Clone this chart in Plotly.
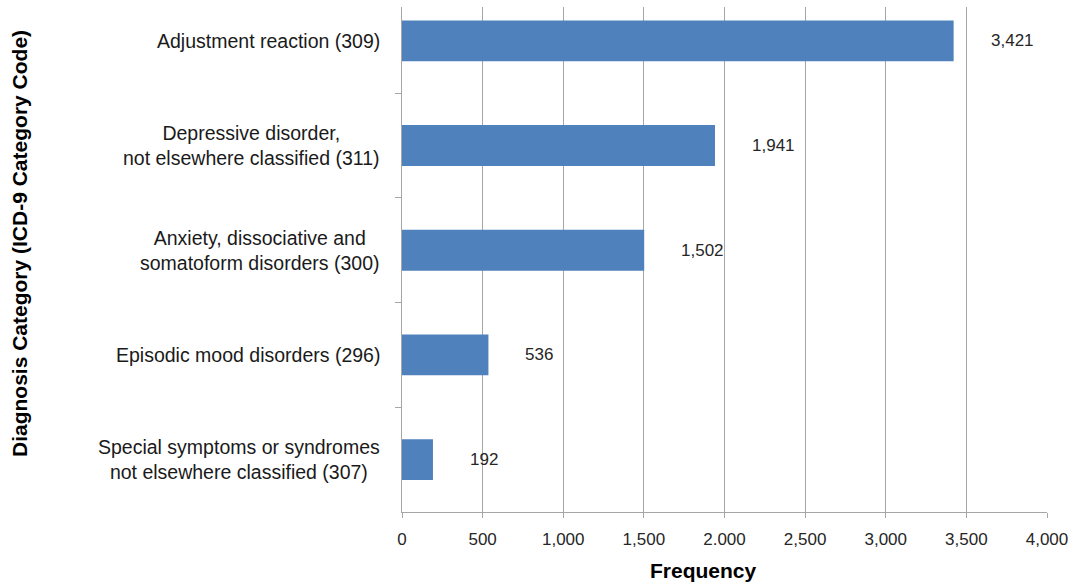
import plotly.graph_objects as go

# Diagnosis categories (ICD-9) and their frequencies, listed top to bottom
categories = [
    "Adjustment reaction (309)",
    "Depressive disorder,<br>not elsewhere classified (311)",
    "Anxiety, dissociative and<br>somatoform disorders (300)",
    "Episodic mood disorders (296)",
    "Special symptoms or syndromes<br>not elsewhere classified (307)",
]
frequencies = [3421, 1941, 1502, 536, 192]
x_ticks = [0, 500, 1000, 1500, 2000, 2500, 3000, 3500, 4000]
x_tick_labels = ["0", "500", "1,000", "1,500", "2.000", "2,500", "3,000", "3,500", "4,000"]

FONT = "Liberation Sans, Arial, sans-serif"
BAR_COLOR = "#4F81BD"
GRID = "#A6A6A6"

fig = go.Figure()
fig.add_trace(go.Bar(
    x=frequencies,
    y=categories,
    orientation="h",
    width=0.39,
    marker=dict(color=BAR_COLOR, line=dict(width=0)),
    hoverinfo="x+y",
))

annotations = []
# value labels to the right of each bar
for cat, val in zip(categories, frequencies):
    annotations.append(dict(
        x=val, y=cat, xref="x", yref="y",
        text=f"{val:,}", showarrow=False,
        xanchor="left", yanchor="middle", xshift=35,
        font=dict(family=FONT, size=17, color="#262626"),
    ))
# category labels, centred line by line
for cat in categories:
    annotations.append(dict(
        x=0, y=cat, xref="paper", yref="y",
        text=cat, showarrow=False, align="center",
        xanchor="right", yanchor="middle", xshift=-20,
        font=dict(family=FONT, size=19.5, color="#1a1a1a"),
    ))
# axis titles
annotations.append(dict(
    x=-0.592, y=0.531, xref="paper", yref="paper",
    text="<b>Diagnosis Category (ICD-9 Category Code)</b>",
    showarrow=False, textangle=-90,
    xanchor="center", yanchor="middle",
    font=dict(family=FONT, size=21, color="#000000"),
))
annotations.append(dict(
    x=0.468, y=-0.115, xref="paper", yref="paper",
    text="<b>Frequency</b>", showarrow=False,
    xanchor="center", yanchor="middle",
    font=dict(family=FONT, size=21, color="#000000"),
))

fig.update_layout(
    width=1077, height=587,
    margin=dict(l=402, r=30, t=7, b=75),
    paper_bgcolor="white", plot_bgcolor="white",
    showlegend=False,
    annotations=annotations,
    font=dict(family=FONT),
)
fig.update_xaxes(
    range=[0, 4000],
    tickvals=x_ticks, ticktext=x_tick_labels,
    showgrid=True, gridcolor=GRID, gridwidth=1,
    zeroline=False,
    showline=True, linecolor=GRID, linewidth=1,
    ticks="outside", ticklen=5, tickcolor=GRID,
    tickfont=dict(family=FONT, size=17, color="#262626"),
    ticklabelstandoff=7,
)
fig.update_yaxes(
    type="category",
    categoryorder="array", categoryarray=categories,
    range=[4.5, -0.323],
    showgrid=False, zeroline=False,
    showline=True, linecolor=GRID, linewidth=1,
    ticks="outside", ticklen=6, tickcolor=GRID,
    tickson="boundaries",
    showticklabels=False,
)

fig.write_html("out.html")
